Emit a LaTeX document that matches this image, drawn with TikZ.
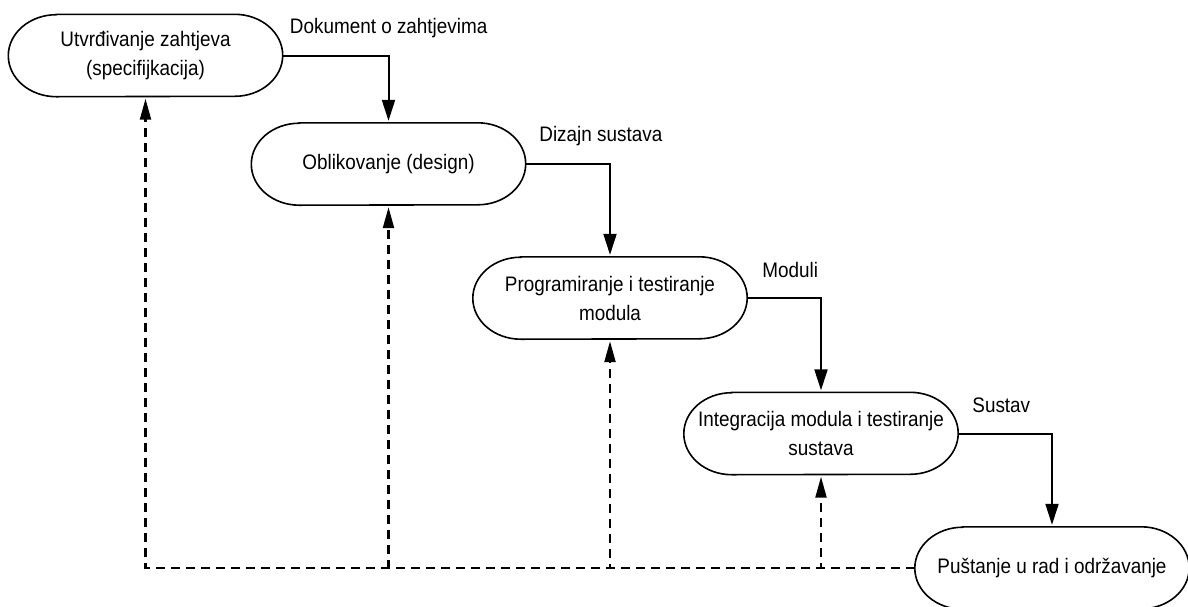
\documentclass[tikz,border=0pt]{standalone}
\usepackage{fontspec}
\setmainfont[FakeStretch=0.9]{Liberation Sans}
\usetikzlibrary{arrows.meta}

\begin{document}
\begin{tikzpicture}[x=1pt,y=-1pt,
    phase/.style={minimum width=274pt, minimum height=82pt, inner sep=0pt, align=center,
        font=\fontsize{21}{29}\selectfont},
    outline/.style={line width=1.6pt},
    lbl/.style={anchor=base west, inner sep=0pt, font=\fontsize{21}{29}\selectfont},
    flow/.style={line width=2pt, -{Triangle[length=21pt,width=13pt]}, shorten >=2pt},
    feedback/.style={line width=2.2pt, dash pattern=on 9pt off 6pt,
        -{Triangle[length=21pt,width=11pt]}, shorten >=2pt}]
    \useasboundingbox (0,0) rectangle (1188,606);

    % Phases
    \node[phase] (spec) at (145.5,55.5) {Utvrđivanje zahtjeva\\(specifijkacija)};
    \node[phase] (design) at (388.5,164) {Oblikovanje (design)};
    \node[phase] (prog) at (610,298) {Programiranje i testiranje\\modula};
    \node[phase] (integ) at (821,433.5) {Integracija modula i testiranje\\sustava};
    \node[phase] (rad) at (1052,568) {Puštanje u rad i održavanje};

    % Outlines with elliptic ends
    \foreach \n in {spec,design,prog,integ,rad} {
        \draw[outline] ([xshift=48pt]\n.north west) -- ([xshift=-48pt]\n.north east)
            arc[start angle=90, end angle=-90, x radius=48pt, y radius=41pt]
            -- ([xshift=48pt]\n.south west)
            arc[start angle=270, end angle=90, x radius=48pt, y radius=41pt] -- cycle;
    }

    % Results of each phase
    \node[lbl] (dok) at ([shift={(7,-22)}]spec.east) {Dokument o zahtjevima};
    \node[lbl] (diz) at ([shift={(13.5,-23)}]design.east) {Dizajn sustava};
    \node[lbl] (mod) at ([shift={(15,-21)}]prog.east) {Moduli};
    \node[lbl] (sus) at ([shift={(14,-21.5)}]integ.east) {Sustav};

    % Flow down the waterfall
    \draw[flow] (spec.east) -| (design.north);
    \draw[flow] (design.east) -| (prog.north);
    \draw[flow] (prog.east) -| (integ.north);
    \draw[flow] (integ.east) -| (rad.north);

    % Feedback from maintenance
    \foreach \n in {spec,design,prog,integ} {
        \draw[feedback] (rad.west) -| (\n.south);
    }
\end{tikzpicture}
\end{document}
